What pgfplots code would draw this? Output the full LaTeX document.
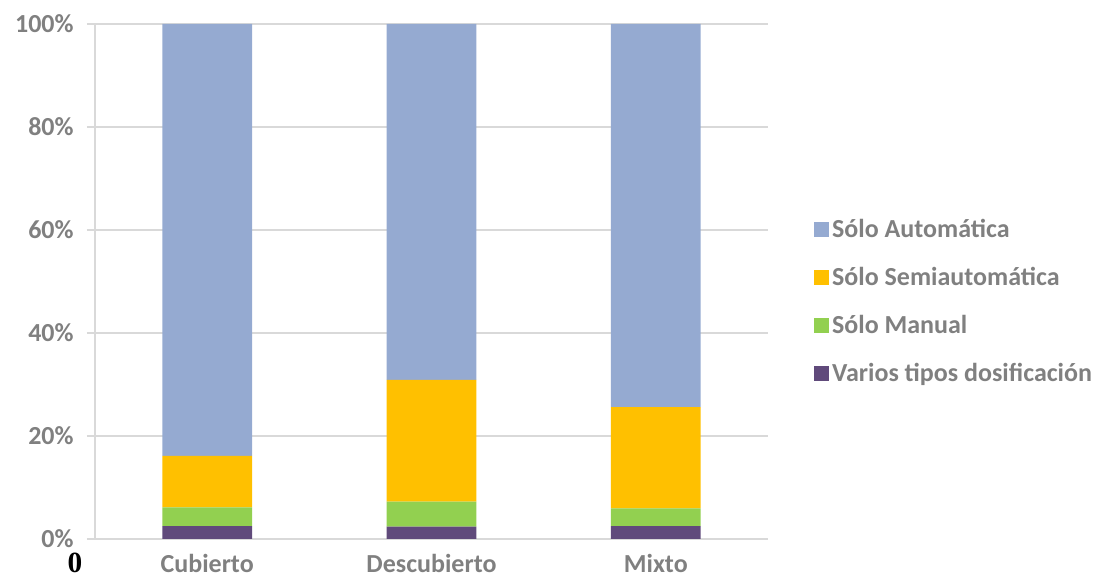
\documentclass[border=0pt]{standalone}
\usepackage{pgfplots}
\pgfplotsset{compat=1.18}
\usepackage{fontspec}
\setmainfont{Carlito}
\newfontfamily\serifzero{Liberation Serif}
\definecolor{cauto}{HTML}{95AAD1}
\definecolor{csemi}{HTML}{FFC000}
\definecolor{cman}{HTML}{92D050}
\definecolor{cvar}{HTML}{604A7B}
\definecolor{txtgray}{HTML}{808080}
\definecolor{gridgray}{HTML}{D9D9D9}
\begin{document}
\begin{tikzpicture}
\useasboundingbox (0,0) rectangle (826.5pt,438pt);
\begin{axis}[
  at={(71.25pt,33.75pt)}, anchor=south west,
  scale only axis, width=504.75pt, height=386.25pt,
  ybar stacked, bar width=0.4,
  xmin=-0.5, xmax=2.5, ymin=0, ymax=100,
  xtick={0,1,2}, xticklabels={Cubierto,Descubierto,Mixto},
  extra x ticks={-0.5,0.5,1.5,2.5}, extra x tick labels={},
  extra x tick style={major tick length=6pt, tick style={gridgray, line width=0.8pt}},
  ytick={0,20,40,60,80,100},
  yticklabel={\pgfmathprintnumber{\tick}\%},
  /pgf/number format/assume math mode=true,
  axis lines*=left,
  axis line style={gridgray, line width=0.8pt, -},
  ymajorgrids, grid style={gridgray, line width=0.8pt},
  tick align=outside,
  major tick length=6pt,
  tick style={gridgray, line width=0.8pt},
  xtick style={draw=none},
  ticklabel style={font=\fontsize{19.5}{22}\selectfont\bfseries, text=txtgray},
  yticklabel style={xshift=-6.5pt},
  xticklabel style={yshift=-2pt},
  legend style={at={(1.0685,0.627)}, anchor=north west, draw=none, fill=none,
    font=\fontsize{19.5}{22}\selectfont\bfseries, text=txtgray,
    row sep=16.8pt, inner sep=0pt},
  legend cell align=left,
  reverse legend,
  legend image code/.code={\fill[#1] (-5.3pt,-5.6pt) rectangle (6pt,5.6pt);},
]
\addplot[fill=cvar, draw=none] coordinates {(0,2.5) (1,2.4) (2,2.5)};
\addplot[fill=cman, draw=none] coordinates {(0,3.65) (1,4.85) (2,3.45)};
\addplot[fill=csemi, draw=none] coordinates {(0,10.0) (1,23.65) (2,19.65)};
\addplot[fill=cauto, draw=none] coordinates {(0,83.85) (1,69.1) (2,74.4)};
\legend{Varios tipos dosificación, Sólo Manual, Sólo Semiautomática, Sólo Automática}
\end{axis}
\node[font=\serifzero\fontsize{22}{22}\selectfont\bfseries] at (56.25pt,15.5pt) {0};
\end{tikzpicture}
\end{document}
